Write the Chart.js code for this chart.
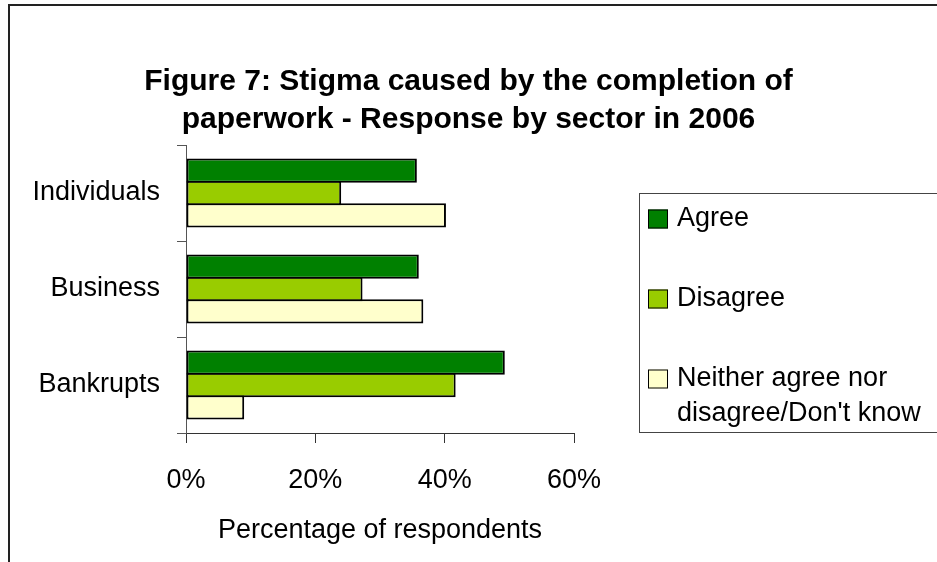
<!DOCTYPE html>
<html>
<head>
<meta charset="utf-8">
<title>Figure 7: Stigma caused by the completion of paperwork</title>
<script src="https://cdn.jsdelivr.net/npm/chart.js@4.4.1/dist/chart.umd.min.js"></script>
<style>
    html, body { margin: 0; padding: 0; background: #fff; }
    canvas { display: block; }
</style>
</head>
<body>
<canvas id="stigmaChart" width="937" height="562"></canvas>
<script>
const sectors = ['Individuals', 'Business', 'Bankrupts'];
const agree = [35.7, 36.0, 49.3];
const disagree = [24.0, 27.3, 41.7];
const neither = [40.2, 36.7, 9.0];
const responseLabels = ['Agree', 'Disagree', "Neither agree nor disagree/Don't know"];
const xTicks = [0, 20, 40, 60];
const titleLines = [
    'Figure 7: Stigma caused by the completion of',
    'paperwork - Response by sector in 2006',
];
const axisTitle = 'Percentage of respondents';

const fillColors = ['#008000', '#99cc00', '#ffffcc'];
const fontFamily = "'Liberation Sans', Arial, sans-serif";
const labelFont = { family: fontFamily, size: 27 };

// split a legend label into lines that fit the given width
const wrapText = (ctx, text, maxWidth) => {
    const lines = [];
    let line = '';
    text.split(' ').forEach((word) => {
        const test = line ? line + ' ' + word : word;
        if (line && ctx.measureText(test).width > maxWidth) {
            lines.push(line);
            line = word;
        } else {
            line = test;
        }
    });
    lines.push(line);
    return lines;
};

const drawLegend = (chart, box) => {
    const ctx = chart.ctx;
    const left = box.left + 65;
    const top = box.top + 48;
    ctx.save();
    ctx.lineWidth = 1;
    ctx.strokeStyle = '#444';
    ctx.strokeRect(left + 0.5, top + 0.5, chart.width, box.bottom - top - 1);
    ctx.font = `${labelFont.size}px ${fontFamily}`;
    ctx.textBaseline = 'middle';
    ctx.textAlign = 'left';
    chart.data.datasets.forEach((ds, i) => {
        const y = top + 26 + 80 * i;
        ctx.fillStyle = ds.backgroundColor;
        ctx.fillRect(left + 9, y - 9.5, 20, 19);
        ctx.strokeStyle = '#000';
        ctx.strokeRect(left + 9.5, y - 9, 19, 18);
        ctx.fillStyle = '#000';
        wrapText(ctx, ds.label, 262).forEach((line, j) => {
            ctx.fillText(line, left + 38, y + 35 * j);
        });
    });
    ctx.restore();
};

// legend living in its own layout box on the right of the plot
const sideLegend = {
    id: 'sideLegend',
    start(chart) {
        const box = {
            position: 'right',
            weight: 0,
            fullSize: false,
            options: {},
            top: 0, left: 0, right: 0, bottom: 0, width: 0, height: 0,
            isHorizontal() { return false; },
            update(maxWidth, maxHeight) {
                this.width = 363;
                this.height = maxHeight;
            },
            draw() { drawLegend(chart, this); },
        };
        chart.$sideLegend = box;
        Chart.layouts.addBox(chart, box);
    },
    stop(chart) {
        Chart.layouts.removeBox(chart, chart.$sideLegend);
    },
};

// white page with the left and top frame lines
const pageFrame = {
    id: 'pageFrame',
    beforeDraw(chart) {
        const ctx = chart.ctx;
        ctx.save();
        ctx.fillStyle = '#fff';
        ctx.fillRect(0, 0, chart.width, chart.height);
        ctx.strokeStyle = '#222';
        ctx.lineWidth = 2;
        ctx.beginPath();
        ctx.moveTo(9, chart.height);
        ctx.lineTo(9, 5);
        ctx.lineTo(chart.width, 5);
        ctx.stroke();
        ctx.restore();
    },
};

new Chart(document.getElementById('stigmaChart'), {
    type: 'bar',
    data: {
        labels: sectors,
        datasets: [agree, disagree, neither].map((values, i) => ({
            label: responseLabels[i],
            data: values,
            backgroundColor: fillColors[i],
            borderColor: '#000',
            borderWidth: 2,
            borderSkipped: false,
            barPercentage: 1.09,
            categoryPercentage: 0.7,
        })),
    },
    options: {
        indexAxis: 'y',
        responsive: false,
        animation: false,
        layout: { padding: 0 },
        plugins: {
            legend: { display: false },
            tooltip: { enabled: false },
            title: {
                display: true,
                text: titleLines,
                color: '#000',
                font: { family: fontFamily, size: 30, weight: 'bold', lineHeight: 38 / 30 },
                padding: { top: 63, bottom: 6 },
            },
        },
        scales: {
            x: {
                min: 0,
                max: 60,
                afterBuildTicks: (scale) => {
                    scale.ticks = xTicks.map((v) => ({ value: v }));
                },
                afterFit: (scale) => {
                    scale.height = 129;
                },
                ticks: {
                    callback: (v) => v + '%',
                    color: '#000',
                    font: labelFont,
                    padding: 21,
                    maxRotation: 0,
                },
                grid: { drawOnChartArea: false, tickLength: 10, color: '#333' },
                border: { color: '#333' },
                title: {
                    display: true,
                    text: axisTitle,
                    color: '#000',
                    font: labelFont,
                    padding: { top: 0, bottom: 15 },
                },
            },
            y: {
                afterFit: (scale) => {
                    scale.width = 186;
                },
                ticks: { color: '#000', font: labelFont, padding: 17 },
                grid: { offset: true, drawOnChartArea: false, tickLength: 9, color: '#555' },
                border: { color: '#555' },
            },
        },
    },
    plugins: [pageFrame, sideLegend],
});
</script>
</body>
</html>
